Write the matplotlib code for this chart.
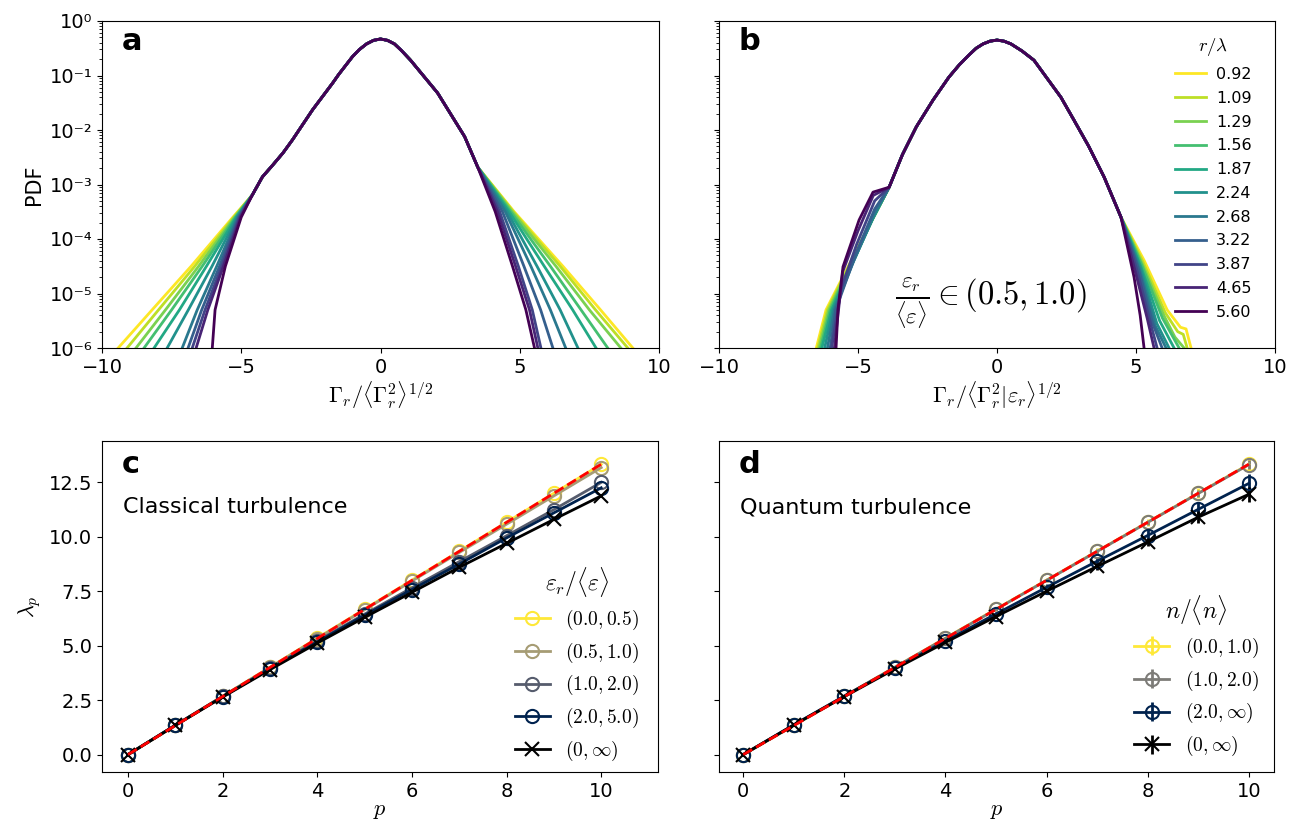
import matplotlib
matplotlib.use("Agg")
import matplotlib.pyplot as plt
import numpy as np

plt.rcParams['mathtext.fontset'] = 'cm'
plt.rcParams['font.family'] = ['DejaVu Sans']

# ---- panel a / b data: log10(PDF) ----
r_lambda = [0.92, 1.09, 1.29, 1.56, 1.87, 2.24, 2.68, 3.22, 3.87, 4.65, 5.60]

# shared core of panel a (x, log10 pdf)
core_a_x = [-4.6, -4.24, -3.88, -3.5, -3.16, -2.44, -1.72, -1.5, -1.0, -0.75, -0.5, -0.25, 0.0,
            0.25, 0.5, 0.75, 1.08, 1.5, 2.05, 3.02, 3.49]
core_a_y = [-3.19, -2.86, -2.65, -2.42, -2.18, -1.63, -1.14, -0.98, -0.65, -0.52, -0.42, -0.355, -0.33,
            -0.355, -0.42, -0.54, -0.72, -0.98, -1.32, -2.12, -2.68]

# tails of panel a, x positions at fixed levels
left_lvl_a = [-3.6, -4.5, -5.3, -6.0]
left_x_a = [
    [-5.3, -6.8, -8.2, -9.42],
    [-5.27, -6.67, -7.97, -9.1],
    [-5.24, -6.53, -7.72, -8.78],
    [-5.21, -6.4, -7.5, -8.49],
    [-5.18, -6.25, -7.22, -8.13],
    [-5.15, -6.05, -6.9, -7.66],
    [-5.12, -5.88, -6.58, -7.12],
    [-5.09, -5.78, -6.42, -6.91],
    [-5.06, -5.7, -6.3, -6.76],
    [-5.03, -5.64, -6.2, -6.62],
    [-5.0, -5.57, -5.94, -6.04],
]
right_lvl_a = [-3.5, -4.5, -5.3, -6.0]
right_x_a = [
    [4.8, 6.55, 7.9, 9.06],
    [4.77, 6.45, 7.72, 8.88],
    [4.73, 6.3, 7.5, 8.63],
    [4.68, 6.1, 7.2, 8.16],
    [4.62, 5.88, 6.9, 7.74],
    [4.55, 5.62, 6.45, 7.09],
    [4.48, 5.4, 6.1, 6.65],
    [4.38, 5.15, 5.75, 6.19],
    [4.28, 4.95, 5.45, 5.76],
    [4.2, 4.85, 5.35, 5.65],
    [4.12, 4.74, 5.22, 5.53],
]

# shared core of panel b
core_b_x = [-3.88, -3.4, -2.9, -2.3, -1.73, -1.35, -1.0, -0.75, -0.5, -0.25, 0.0,
            0.25, 0.5, 0.9, 1.33, 1.8, 2.3, 2.77, 3.3, 3.85, 4.46]
core_b_y = [-3.05, -2.45, -1.94, -1.45, -1.03, -0.8, -0.62, -0.5, -0.42, -0.37, -0.35,
            -0.37, -0.42, -0.55, -0.72, -1.05, -1.4, -1.82, -2.3, -2.86, -3.6]

left_b = [
    [(-4.5, -3.65), (-5.3, -4.45), (-6.15, -5.3), (-6.5, -6.0)],
    [(-4.5, -3.65), (-5.3, -4.47), (-6.1, -5.3), (-6.45, -6.0)],
    [(-4.5, -3.66), (-5.3, -4.5), (-6.05, -5.3), (-6.4, -6.0)],
    [(-4.5, -3.66), (-5.28, -4.5), (-6.0, -5.3), (-6.35, -6.0)],
    [(-4.48, -3.64), (-5.25, -4.5), (-5.95, -5.3), (-6.3, -6.0)],
    [(-4.45, -3.6), (-5.2, -4.45), (-5.9, -5.3), (-6.2, -6.0)],
    [(-4.42, -3.55), (-5.15, -4.4), (-5.85, -5.3), (-6.1, -6.0)],
    [(-4.4, -3.45), (-5.1, -4.3), (-5.8, -5.3), (-6.0, -6.0)],
    [(-4.4, -3.3), (-5.05, -4.1), (-5.6, -4.9), (-5.95, -6.0)],
    [(-4.45, -3.2), (-5.0, -3.85), (-5.55, -4.6), (-5.85, -6.0)],
    [(-4.46, -3.14), (-4.96, -3.65), (-5.54, -4.51), (-5.72, -5.3), (-5.79, -6.0)],
]
right_b = [
    [(5.29, -4.39), (6.12, -5.3), (6.6, -5.62), (6.8, -5.65), (6.98, -6.0)],
    [(5.25, -4.42), (6.05, -5.35), (6.5, -5.7), (6.7, -5.75), (6.84, -6.0)],
    [(5.22, -4.45), (6.0, -5.4), (6.4, -5.8), (6.73, -6.0)],
    [(5.2, -4.47), (5.95, -5.45), (6.55, -6.0)],
    [(5.17, -4.5), (5.85, -5.5), (6.37, -6.0)],
    [(5.15, -4.52), (5.75, -5.55), (6.19, -6.0)],
    [(5.12, -4.55), (5.7, -5.6), (6.08, -6.0)],
    [(5.1, -4.57), (5.6, -5.55), (5.94, -6.0)],
    [(5.05, -4.6), (5.5, -5.5), (5.76, -6.0)],
    [(5.0, -4.65), (5.4, -5.45), (5.65, -6.0)],
    [(4.93, -4.7), (5.15, -5.4), (5.29, -6.0)],
]

# ---- panel c / d data ----
p = list(range(11))
lam_theory = [0, 1.333, 2.667, 4.0, 5.333, 6.667, 8.0, 9.333, 10.667, 12.0, 13.333]

c_labels = ["$(0.0, 0.5)$", "$(0.5, 1.0)$", "$(1.0, 2.0)$", "$(2.0, 5.0)$", "$(0, \\infty)$"]
c_vals = [
    [0, 1.34, 2.68, 4.01, 5.35, 6.68, 8.01, 9.34, 10.67, 12.0, 13.33],
    [0, 1.34, 2.68, 4.0, 5.33, 6.65, 7.97, 9.28, 10.58, 11.88, 13.18],
    [0, 1.35, 2.67, 3.96, 5.22, 6.45, 7.66, 8.86, 10.05, 11.25, 12.5],
    [0, 1.35, 2.66, 3.94, 5.18, 6.4, 7.58, 8.75, 9.95, 11.1, 12.25],
    [0, 1.34, 2.64, 3.9, 5.12, 6.3, 7.45, 8.6, 9.7, 10.8, 11.88],
]
d_labels = ["$(0.0, 1.0)$", "$(1.0, 2.0)$", "$(2.0, \\infty)$", "$(0, \\infty)$"]
d_vals = [
    [0, 1.34, 2.68, 4.01, 5.35, 6.68, 8.01, 9.34, 10.67, 12.0, 13.33],
    [0, 1.34, 2.68, 4.01, 5.34, 6.67, 8.0, 9.33, 10.66, 11.99, 13.31],
    [0, 1.37, 2.69, 3.97, 5.22, 6.46, 7.68, 8.88, 10.06, 11.26, 12.45],
    [0, 1.36, 2.66, 3.93, 5.15, 6.34, 7.5, 8.64, 9.76, 10.9, 11.95],
]
d_err = [
    [0, 0.01, 0.02, 0.03, 0.05, 0.07, 0.1, 0.13, 0.17, 0.22, 0.28],
    [0, 0.01, 0.02, 0.03, 0.04, 0.06, 0.08, 0.1, 0.13, 0.16, 0.2],
    [0, 0.01, 0.02, 0.04, 0.07, 0.1, 0.15, 0.2, 0.27, 0.35, 0.45],
    [0, 0.01, 0.02, 0.03, 0.05, 0.08, 0.11, 0.15, 0.2, 0.27, 0.35],
]

ylog_ticks = [1e-6, 1e-5, 1e-4, 1e-3, 1e-2, 1e-1, 1e0]
ylog_labels = ["10\u207b\u2076", "10\u207b\u2075", "10\u207b\u2074", "10\u207b\u00b3",
               "10\u207b\u00b2", "10\u207b\u00b9", "10\u2070"]

W, H = 1298, 825
fig = plt.figure(figsize=(W / 100, H / 100), dpi=100)

def box(l, t, r, b):
    return [l / W, 1 - b / H, (r - l) / W, (b - t) / H]

ax_a = fig.add_axes(box(102, 21, 659, 348))
ax_b = fig.add_axes(box(719, 21, 1275, 348))
ax_c = fig.add_axes(box(102, 441, 658, 772))
ax_d = fig.add_axes(box(719, 441, 1274, 772))

colors = plt.cm.viridis(np.linspace(1, 0, len(r_lambda)))

for i, r in enumerate(r_lambda):
    # panel a
    xs = list(left_x_a[i][::-1]) + core_a_x + list(right_x_a[i])
    ys = left_lvl_a[::-1] + core_a_y + right_lvl_a
    ax_a.plot(xs, 10 ** np.array(ys), color=colors[i], lw=2)
    # panel b
    lt = left_b[i][::-1]
    rt = right_b[i]
    xs = [q[0] for q in lt] + core_b_x + [q[0] for q in rt]
    ys = [q[1] for q in lt] + core_b_y + [q[1] for q in rt]
    ax_b.plot(xs, 10 ** np.array(ys), color=colors[i], lw=2, label="%.2f" % r)

for ax in (ax_a, ax_b):
    ax.set_yscale("log")
    ax.set_ylim(1e-6, 1e0)
    ax.set_xlim(-10, 10)
    ax.set_xticks([-10, -5, 0, 5, 10])
    ax.set_yticks(ylog_ticks)
    ax.tick_params(labelsize=14)

ax_a.set_yticklabels(ylog_labels)
ax_b.set_yticklabels([])
ax_a.set_ylabel("PDF", fontsize=15)
ax_a.set_xlabel("$\\Gamma_r/\\langle\\Gamma_r^2\\rangle^{1/2}$", fontsize=16, labelpad=2)
ax_b.set_xlabel("$\\Gamma_r/\\langle\\Gamma_r^2|\\varepsilon_r\\rangle^{1/2}$", fontsize=16, labelpad=2)
ax_a.text(0.035, 0.936, "a", transform=ax_a.transAxes, fontsize=22, fontweight="bold", va="center")
ax_b.text(0.035, 0.936, "b", transform=ax_b.transAxes, fontsize=22, fontweight="bold", va="center")
ax_b.text(0.317, 0.14, "$\\frac{\\varepsilon_r}{\\langle\\varepsilon\\rangle} \\in (0.5, 1.0)$",
          transform=ax_b.transAxes, fontsize=23.5, va="center")
ax_b.legend(loc="upper right", bbox_to_anchor=(1 - 12 / 556, 1 - 4 / 327), frameon=False,
            fontsize=11.5, title="$r/\\lambda$", title_fontsize=13.5, handlelength=2.0,
            handletextpad=0.6, labelspacing=0.55, borderaxespad=0.3)

# panel c
c_colors = [plt.cm.cividis(1.0), plt.cm.cividis(0.67), plt.cm.cividis(0.33), plt.cm.cividis(0.0), "black"]
for i in range(5):
    mk = "x" if i == 4 else "o"
    ax_c.plot(p, c_vals[i], color=c_colors[i], marker=mk, mfc="none", ms=9.5, mew=1.5,
              lw=2, label=c_labels[i])
ax_c.plot(p, lam_theory, "--", color="red", lw=2, zorder=5)

# panel d
d_colors = [plt.cm.cividis(1.0), plt.cm.cividis(0.5), plt.cm.cividis(0.0), "black"]
for i in range(4):
    mk = "x" if i == 3 else "o"
    ax_d.errorbar(p, d_vals[i], yerr=d_err[i], color=d_colors[i], marker=mk, mfc="none",
                  ms=9.5, mew=1.5, lw=2, label=d_labels[i])
ax_d.plot(p, lam_theory, "--", color="red", lw=2, zorder=5)

for ax in (ax_c, ax_d):
    ax.set_ylim(-0.8, 14.4)
    ax.set_xticks([0, 2, 4, 6, 8, 10])
    ax.set_yticks([0, 2.5, 5, 7.5, 10, 12.5])
    ax.tick_params(labelsize=14)
    ax.set_xlabel("$p$", fontsize=16, labelpad=0)
ax_c.set_xlim(-0.55, 11.2)
ax_d.set_xlim(-0.48, 10.5)
ax_c.set_yticklabels(["0.0", "2.5", "5.0", "7.5", "10.0", "12.5"])
ax_d.set_yticklabels([])
ax_c.set_ylabel("$\\lambda_p$", fontsize=16)
ax_c.text(0.035, 0.93, "c", transform=ax_c.transAxes, fontsize=22, fontweight="bold", va="center")
ax_d.text(0.035, 0.93, "d", transform=ax_d.transAxes, fontsize=22, fontweight="bold", va="center")
ax_c.text(0.038, 0.80, "Classical turbulence", transform=ax_c.transAxes, fontsize=16, va="center")
ax_d.text(0.038, 0.80, "Quantum turbulence", transform=ax_d.transAxes, fontsize=16, va="center")
ax_c.legend(loc="lower right", bbox_to_anchor=(0.980, 0.003), frameon=False, fontsize=14,
            title="$\\varepsilon_r/\\langle\\varepsilon\\rangle$",
            title_fontsize=17, handlelength=1.8, labelspacing=0.45, borderaxespad=0.0)
ax_d.legend(loc="lower right", bbox_to_anchor=(0.986, 0.018), frameon=False, fontsize=14,
            title="$n/\\langle n\\rangle$",
            title_fontsize=17, handlelength=1.8, labelspacing=0.45, borderaxespad=0.0)

fig.savefig("out.png", dpi=100)
